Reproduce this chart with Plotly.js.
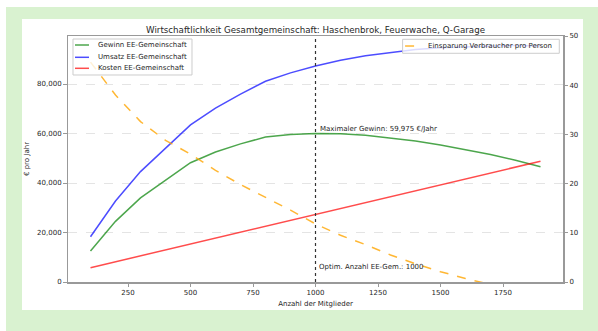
<!DOCTYPE html>
<html>
<head>
<meta charset="utf-8">
<script src="https://cdn.plot.ly/plotly-3.0.1.min.js"></script>
<style>
  html, body { margin: 0; padding: 0; background: #ffffff; }
  #outer { position: relative; width: 598px; height: 331px; background: #ffffff; overflow: hidden; }
  #green { position: absolute; left: 6px; top: 7px; width: 592px; height: 324px; background: #d9f2d0; }
  #chart { position: absolute; left: 22px; top: 19px; width: 561px; height: 291px; background: #ffffff; }
</style>
</head>
<body>
<div id="outer">
  <div id="green"></div>
  <div id="chart"></div>
</div>
<script>
// Data
const mitglieder = [100, 200, 300, 400, 500, 600, 700, 800, 900, 1000, 1100, 1200, 1300, 1400, 1500, 1600, 1700, 1800, 1900];
const gewinn = [12500, 24500, 34000, 41000, 48200, 52500, 55800, 58600, 59600, 59975, 59900, 59300, 58300, 57000, 55400, 53500, 51500, 49200, 46600];
const umsatz = [18300, 32700, 44600, 54000, 63500, 70300, 75900, 81100, 84500, 87300, 89600, 91400, 92800, 93900, 94700, 95100, 95500, 95600, 95400];
const kosten = [5790, 8180, 10570, 12960, 15350, 17740, 20130, 22520, 24910, 27300, 29690, 32080, 34470, 36860, 39250, 41640, 44030, 46420, 48810];
const einsparung = [44.7, 38.0, 32.6, 28.8, 26.0, 22.7, 19.8, 17.2, 14.6, 11.8, 9.5, 7.6, 5.5, 3.7, 2.1, 0.7, -0.6, -1.7, -2.8];
const seriesNames = ['Gewinn EE-Gemeinschaft', 'Umsatz EE-Gemeinschaft', 'Kosten EE-Gemeinschaft', 'Einsparung Verbraucher pro Person'];
const optimumX = 1000;
const maxGewinn = 59975;
const xTicks = [250, 500, 750, 1000, 1250, 1500, 1750];
const yTicks = [0, 20000, 40000, 60000, 80000];
const y2Ticks = [0, 10, 20, 30, 40, 50];

const FONT = 'DejaVu Sans, sans-serif';
const TXT = '#262626';
const COLORS = ['rgba(0,128,0,0.7)', 'rgba(0,0,255,0.7)', 'rgba(255,0,0,0.7)', 'rgba(255,165,0,0.8)'];
const DASHES = ['solid', 'solid', 'solid', 'dash'];

const traces = [
  {x: mitglieder, y: gewinn, type: 'scatter', mode: 'lines', name: seriesNames[0],
   line: {color: COLORS[0], width: 1.5}},
  {x: mitglieder, y: umsatz, type: 'scatter', mode: 'lines', name: seriesNames[1],
   line: {color: COLORS[1], width: 1.5}},
  {x: mitglieder, y: kosten, type: 'scatter', mode: 'lines', name: seriesNames[2],
   line: {color: COLORS[2], width: 1.5}},
  {x: mitglieder, y: einsparung, type: 'scatter', mode: 'lines', name: seriesNames[3],
   yaxis: 'y2', line: {color: COLORS[3], width: 1.5, dash: 'dash'}}
];

const axisCommon = {
  showline: true, linecolor: '#999999', linewidth: 1.5,
  ticks: 'outside', ticklen: 3.5, tickwidth: 1, tickcolor: '#999999',
  tickfont: {family: FONT, size: 7, color: TXT}, zeroline: false
};

// Compact matplotlib-like legends (paper coordinates)
const shapes = [
  {type: 'line', xref: 'x', yref: 'paper', x0: optimumX, x1: optimumX, y0: 0, y1: 1,
   line: {color: '#333333', width: 1.2, dash: 'dot'}},
  {type: 'rect', xref: 'paper', yref: 'paper', x0: 0.0101, x1: 0.2505, y0: 0.8415, y1: 0.9878,
   fillcolor: 'rgba(255,255,255,0.8)', line: {color: '#cccccc', width: 1}, layer: 'above'},
  {type: 'rect', xref: 'paper', yref: 'paper', x0: 0.676, x1: 0.9925, y0: 0.9297, y1: 0.9866,
   fillcolor: 'rgba(255,255,255,0.8)', line: {color: '#cccccc', width: 1}, layer: 'above'}
];
const annotations = [];
const legRows = [0.9634, 0.9134, 0.8687];
for (let i = 0; i < 3; i++) {
  shapes.push({type: 'line', xref: 'paper', yref: 'paper', x0: 0.0141, x1: 0.0424, y0: legRows[i], y1: legRows[i],
    line: {color: COLORS[i], width: 1.5, dash: DASHES[i]}, layer: 'above'});
  annotations.push({xref: 'paper', yref: 'paper', x: 0.0566, y: legRows[i], xanchor: 'left', yanchor: 'middle',
    showarrow: false, text: seriesNames[i], font: {family: FONT, size: 7, color: TXT}});
}
shapes.push({type: 'line', xref: 'paper', yref: 'paper', x0: 0.681, x1: 0.711, y0: 0.9593, y1: 0.9593,
  line: {color: COLORS[3], width: 1.5, dash: DASHES[3]}, layer: 'above'});
annotations.push({xref: 'paper', yref: 'paper', x: 0.723, y: 0.9593, xanchor: 'left', yanchor: 'middle',
  showarrow: false, text: seriesNames[3], font: {family: FONT, size: 7, color: TXT}});

annotations.push(
  {xref: 'x', yref: 'y', x: optimumX, y: maxGewinn, xanchor: 'left', yanchor: 'bottom',
   xshift: 2, yshift: -1, showarrow: false,
   text: 'Maximaler Gewinn: ' + maxGewinn.toLocaleString('en-US') + ' €/Jahr',
   font: {family: FONT, size: 7, color: TXT}},
  {xref: 'x', yref: 'y', x: optimumX, y: 6000, xanchor: 'left', yanchor: 'middle',
   xshift: 1, showarrow: false,
   text: 'Optim. Anzahl EE-Gem.: ' + optimumX,
   font: {family: FONT, size: 7, color: TXT}}
);

const layout = {
  width: 561, height: 291,
  margin: {l: 46, r: 20, t: 17, b: 28},
  paper_bgcolor: '#ffffff', plot_bgcolor: '#ffffff',
  font: {family: FONT, size: 7, color: TXT},
  title: {text: 'Wirtschaftlichkeit Gesamtgemeinschaft: Haschenbrok, Feuerwache, Q-Garage',
          font: {family: FONT, size: 8.7, color: TXT}, x: 0.5, xref: 'paper', xanchor: 'center',
          y: 1, yref: 'paper', yanchor: 'bottom', pad: {b: 3}},
  showlegend: false,
  xaxis: Object.assign({}, axisCommon, {
    range: [10, 1990], tickvals: xTicks, showgrid: false, mirror: true,
    title: {text: 'Anzahl der Mitglieder', font: {family: FONT, size: 7, color: TXT}, standoff: 4}
  }),
  yaxis: Object.assign({}, axisCommon, {
    range: [0, 99400], tickvals: yTicks, tickformat: ',d', showgrid: true,
    gridcolor: 'rgba(180,180,180,0.6)', griddash: 'dash', gridwidth: 0.6,
    title: {text: '€ pro Jahr', font: {family: FONT, size: 7, color: TXT}, standoff: 6}
  }),
  yaxis2: Object.assign({}, axisCommon, {
    range: [0, 50], tickvals: y2Ticks, overlaying: 'y', side: 'right', showgrid: false
  }),
  shapes: shapes,
  annotations: annotations
};

Plotly.newPlot('chart', traces, layout, {displayModeBar: false, staticPlot: true});
</script>
</body>
</html>
